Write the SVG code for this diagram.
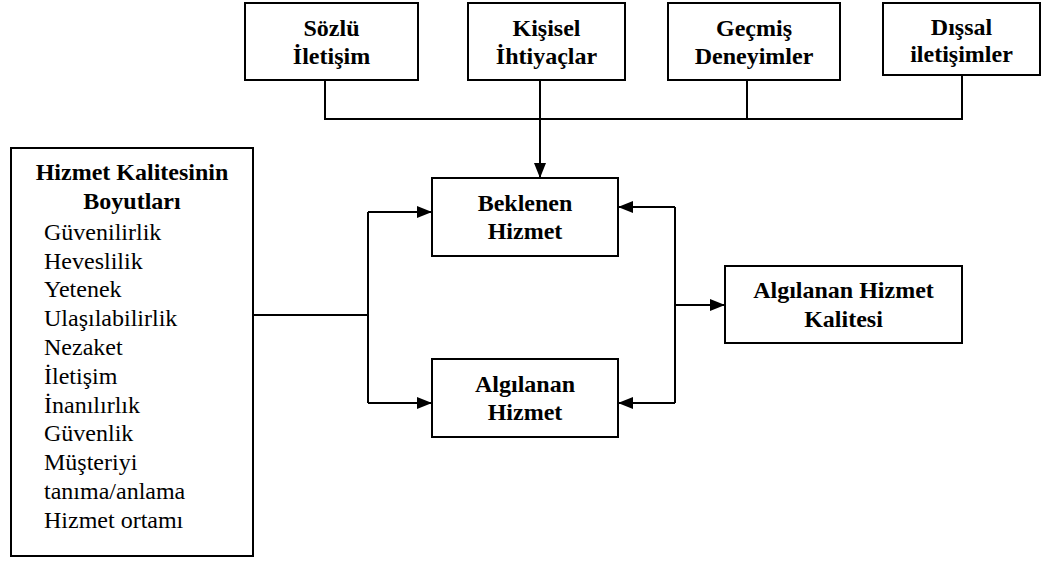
<svg xmlns="http://www.w3.org/2000/svg" width="1044" height="564" viewBox="0 0 1044 564">
  <style>
    .box { fill: #ffffff; stroke: #000000; stroke-width: 2; }
    .wire { fill: none; stroke: #000000; stroke-width: 2; }
    text { font-family: 'Liberation Serif', 'Times New Roman', serif; font-size: 24px; fill: #000000; }
    .lbl { font-weight: bold; text-anchor: middle; }
  </style>
  <defs>
    <marker id="arrow" viewBox="0 0 15 12" refX="15" refY="6" markerWidth="15" markerHeight="12" markerUnits="userSpaceOnUse" orient="auto">
      <path d="M0,0 L15,6 L0,12 Z" fill="#000000"/>
    </marker>
  </defs>

  <rect width="1044" height="564" fill="#ffffff"/>

  <!-- connectors -->
  <g id="connectors">
    <!-- the four source boxes join one bus that feeds the expected service -->
    <path class="wire" d="M325,80 V119 H962 V75"/>
    <path class="wire" d="M747,80 V119"/>
    <path class="wire" d="M540,80 V178" marker-end="url(#arrow)"/>
    <!-- dimensions box feeds both service boxes -->
    <path class="wire" d="M253,315 H368"/>
    <path class="wire" d="M368,212 V403"/>
    <path class="wire" d="M368,212 H432" marker-end="url(#arrow)"/>
    <path class="wire" d="M368,403 H432" marker-end="url(#arrow)"/>
    <!-- comparison bracket on the right -->
    <path class="wire" d="M675,207 V403"/>
    <path class="wire" d="M675,207 H618" marker-end="url(#arrow)"/>
    <path class="wire" d="M675,403 H618" marker-end="url(#arrow)"/>
    <path class="wire" d="M675,305 H725" marker-end="url(#arrow)"/>
  </g>

  <g id="sozlu-iletisim">
    <rect class="box" x="245" y="3" width="173" height="77"/>
    <text class="lbl" x="331.5" y="36">Sözlü</text>
    <text class="lbl" x="331.5" y="64">İletişim</text>
  </g>

  <g id="kisisel-ihtiyaclar">
    <rect class="box" x="468" y="3" width="157" height="77"/>
    <text class="lbl" x="546.5" y="36">Kişisel</text>
    <text class="lbl" x="546.5" y="64">İhtiyaçlar</text>
  </g>

  <g id="gecmis-deneyimler">
    <rect class="box" x="668" y="3" width="172" height="77"/>
    <text class="lbl" x="754" y="36">Geçmiş</text>
    <text class="lbl" x="754" y="64">Deneyimler</text>
  </g>

  <g id="dissal-iletisimler">
    <rect class="box" x="883" y="3" width="157" height="72"/>
    <text class="lbl" x="961.5" y="35">Dışsal</text>
    <text class="lbl" x="961.5" y="62">iletişimler</text>
  </g>

  <g id="hizmet-kalitesi-boyutlari">
    <rect class="box" x="11" y="148" width="242" height="408"/>
    <text class="lbl" x="132" y="180">Hizmet Kalitesinin</text>
    <text class="lbl" x="132" y="209">Boyutları</text>
    <text x="44" y="240">Güvenilirlik</text>
    <text x="44" y="269">Heveslilik</text>
    <text x="44" y="297">Yetenek</text>
    <text x="44" y="326">Ulaşılabilirlik</text>
    <text x="44" y="355">Nezaket</text>
    <text x="44" y="384">İletişim</text>
    <text x="44" y="413">İnanılırlık</text>
    <text x="44" y="441">Güvenlik</text>
    <text x="44" y="470">Müşteriyi</text>
    <text x="44" y="499">tanıma/anlama</text>
    <text x="44" y="528">Hizmet ortamı</text>
  </g>

  <g id="beklenen-hizmet">
    <rect class="box" x="432" y="178" width="186" height="78"/>
    <text class="lbl" x="525" y="211">Beklenen</text>
    <text class="lbl" x="525" y="239">Hizmet</text>
  </g>

  <g id="algilanan-hizmet">
    <rect class="box" x="432" y="359" width="186" height="78"/>
    <text class="lbl" x="525" y="392">Algılanan</text>
    <text class="lbl" x="525" y="420">Hizmet</text>
  </g>

  <g id="algilanan-hizmet-kalitesi">
    <rect class="box" x="725" y="266" width="237" height="77"/>
    <text class="lbl" x="843.5" y="298">Algılanan Hizmet</text>
    <text class="lbl" x="843.5" y="327">Kalitesi</text>
  </g>
</svg>
